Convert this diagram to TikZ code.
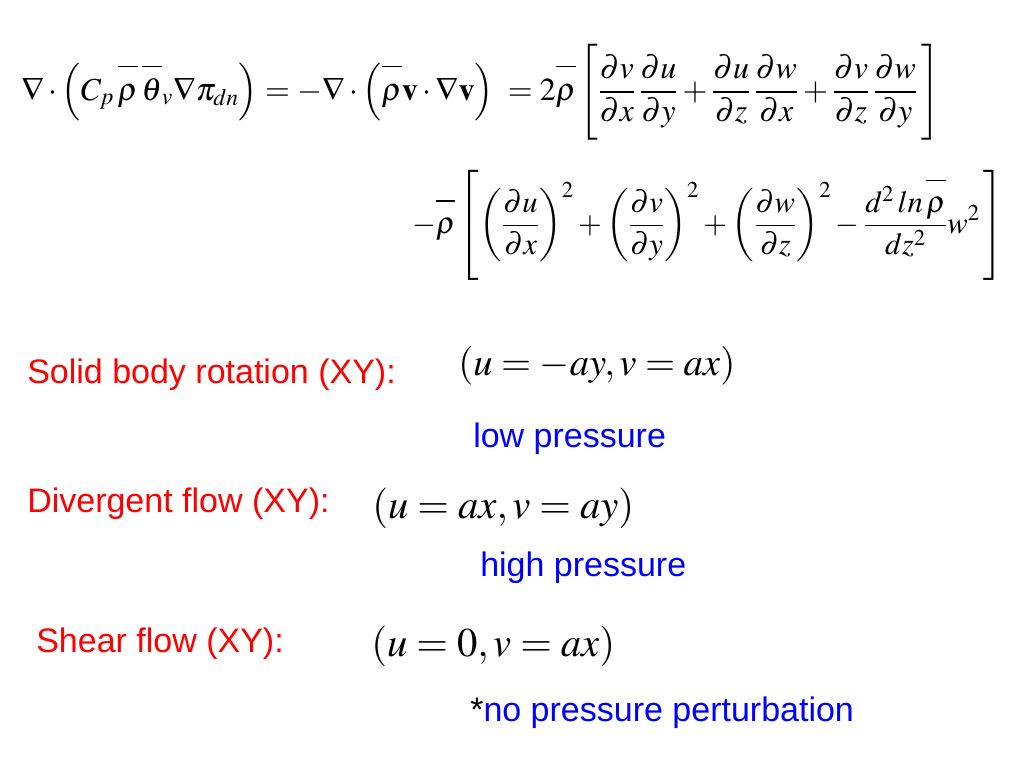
\documentclass[tikz,border=0pt]{standalone}
\usepackage{mathptmx}
\usepackage[no-math]{fontspec}
\setmainfont{Liberation Sans}

\newcommand{\ovl}[1]{\overline{\rule{0pt}{0.9em}#1}}
\newcommand{\tallstrut}[2]{\vrule height #1 depth #2 width 0pt}

\begin{document}
\begin{tikzpicture}[
    x=0.75pt, y=-0.75pt,
    flowlabel/.style={font=\fontsize{25.5}{30}\selectfont, text=red, inner sep=0pt, anchor=base west},
    pressnote/.style={font=\fontsize{25.5}{30}\selectfont, text=blue, inner sep=0pt, anchor=base west},
    flowmath/.style={font=\fontsize{30.5}{36}\selectfont, inner sep=0pt, anchor=base west},
    eqline/.style={font=\fontsize{24}{30}\selectfont, inner sep=0pt}
]
    \useasboundingbox (0, 0) rectangle (1024, 768);

    % Pressure equation
    \node[eqline, anchor=base west] (eqtop) at (21, 100)
        {$\displaystyle\nabla\cdot\left(C_p\,\ovl{\rho}\,\ovl{\theta}_v\nabla\pi_{dn}\right)=-\nabla\cdot\left(\ovl{\rho}\mathbf{v}\cdot\nabla\mathbf{v}\right)\;=2\ovl{\rho}\left[\tallstrut{1.75em}{1.3em}\frac{\partial v}{\partial x}\,\frac{\partial u}{\partial y}+\frac{\partial u}{\partial z}\,\frac{\partial w}{\partial x}+\frac{\partial v}{\partial z}\,\frac{\partial w}{\partial y}\,\right]$};
    \node[eqline, font=\fontsize{23}{28}\selectfont, anchor=base east] (eqbot) at (1004, 233)
        {$\displaystyle-\ovl{\rho}\left[\tallstrut{2.05em}{1.55em}\left(\frac{\partial u}{\partial x}\right)^2+\left(\frac{\partial v}{\partial y}\right)^2+\left(\frac{\partial w}{\partial z}\right)^2-\frac{d^2\,ln\,\ovl{\rho}}{dz^2}w^2\,\right]$};

    % Flow types
    \node[flowlabel] (solid) at (27, 383) {Solid body rotation (XY):};
    \node[flowmath, font=\fontsize{29}{34}\selectfont] (solideq) at (458, 375) {$(u=-ay, v=ax)$};
    \node[pressnote] (low) at (473, 447) {low pressure};

    \node[flowlabel] (diverg) at (27, 512) {Divergent flow (XY):};
    \node[flowmath] (divergeq) at (372, 518) {$(u=ax, v=ay)$};
    \node[pressnote] (high) at (480, 576) {high pressure};

    \node[flowlabel] (shear) at (36, 652) {Shear flow (XY):};
    \node[flowmath] (sheareq) at (371, 656) {$(u=0, v=ax)$};
    \node[pressnote] (nopress) at (470, 721) {{\color{black}*}no pressure perturbation};
\end{tikzpicture}
\end{document}
